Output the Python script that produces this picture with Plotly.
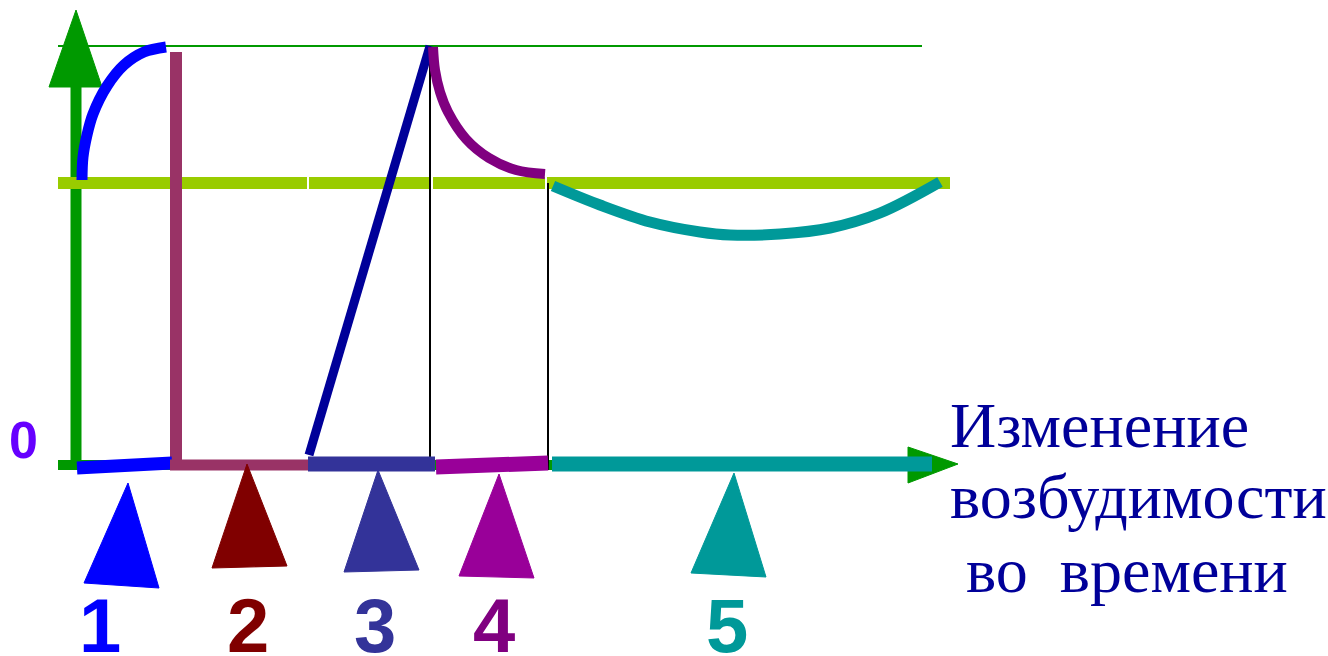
import plotly.graph_objects as go

# --- data (x = time, y = excitability above the resting level 0) ---
rest_level = 0
threshold_level = 282
peak_level = 419

# phase 1 - blue rise
phase1_x = [82, 83, 87, 93, 107, 124, 144, 166]
phase1_y = [285, 308, 330, 351, 379, 400, 413, 418]
# phase 2 - drop to zero
phase2_x = [176, 176]
phase2_y = [413, 0]
# phase 3 - linear recovery
phase3_x = [309, 430]
phase3_y = [10, 419]
# phase 4 - decay back to threshold
phase4_x = [433, 435, 440, 448, 466, 489, 516, 545]
phase4_y = [418, 395, 373, 353, 326, 307, 295, 291]
# phase 5 - sub-threshold dip
phase5_x = [553, 600, 650, 700, 730, 780, 830, 880, 940]
phase5_y = [279, 260, 243, 233, 230, 231, 237, 252, 283]

# phase intervals on the time axis
interval_x = [[77, 172], [170, 308], [308, 435], [436, 548], [552, 932]]
interval_y = [[-3, 2], [0, 0], [1, 1], [-2, 2], [1, 1]]
interval_colors = ["#0000FF", "#993366", "#333399", "#990099", "#009999"]
interval_widths = [13, 11, 15, 15, 15]

# pointer triangles under each interval
pointer_x = [[128, 84, 159], [247, 212, 287], [378, 344, 419], [499, 459, 534], [734, 691, 766]]
pointer_y = [[-18, -118, -123], [1, -103, -101], [-5, -107, -105], [-9, -111, -113], [-8, -108, -112]]
pointer_colors = ["#0000FF", "#800000", "#333399", "#990099", "#009999"]

phase_labels = ["1", "2", "3", "4", "5"]
label_x = [100, 248, 375, 494, 727]
label_colors = ["#0000FF", "#800000", "#333399", "#800080", "#009999"]

threshold_x = [58, 307, None, 309, 431, None, 433, 545, None, 547, 950]
title_lines = ["Изменение", "возбудимости", "\u00a0во\u00a0\u00a0времени"]

fig = go.Figure()


def line(x, y, color, width, shape="linear"):
    fig.add_trace(go.Scatter(x=x, y=y, mode="lines", line=dict(color=color, width=width, shape=shape)))


def tri(x, y, color):
    fig.add_trace(go.Scatter(x=x + [x[0]], y=y + [y[0]], mode="lines", fill="toself",
                             fillcolor=color, line=dict(color=color, width=1)))


# axes (green)
line([58, 930], [rest_level, rest_level], "#009900", 10)
tri([908, 908, 958], [18, -18, 1], "#009900")
line([76, 76], [-5, 380], "#009900", 11)
tri([49, 102, 76], [378, 378, 455], "#009900")

# levels
line([58, 922], [peak_level, peak_level], "#009900", 2)
line(threshold_x, [threshold_level if v is not None else None for v in threshold_x], "#99CC00", 12)

# thin guides
line([430, 430], [-5, peak_level], "black", 2)
line([548, 548], [-5, threshold_level], "black", 2)

# the excitability curve
line(phase1_x, phase1_y, "#0000FF", 11, "spline")
line(phase2_x, phase2_y, "#993366", 12)
line(phase3_x, phase3_y, "#000099", 9)
line(phase4_x, phase4_y, "#800080", 10, "spline")
line(phase5_x, phase5_y, "#009999", 11, "spline")

for xs, ys, c, w in zip(interval_x, interval_y, interval_colors, interval_widths):
    line(xs, ys, c, w)

for xs, ys, c in zip(pointer_x, pointer_y, pointer_colors):
    tri(xs, ys, c)

for t, x, c in zip(phase_labels, label_x, label_colors):
    fig.add_annotation(x=x, y=-160, text=t, showarrow=False, xanchor="center", yanchor="middle",
                       font=dict(family="Liberation Sans", size=76, color=c, weight="bold"))

fig.add_annotation(x=23, y=25, text="0", showarrow=False, xanchor="center", yanchor="middle",
                   font=dict(family="Liberation Sans", size=52, color="#6600FF", weight="bold"))

for t, y in zip(title_lines, [40, -31, -105]):
    fig.add_annotation(x=948, y=y, text=t, showarrow=False, xanchor="left", yanchor="middle",
                       font=dict(family="Liberation Serif", size=64, color="#000099"))

fig.update_layout(
    width=1328, height=656, margin=dict(l=0, r=0, t=0, b=0),
    paper_bgcolor="white", plot_bgcolor="white", showlegend=False, hovermode=False,
    xaxis=dict(range=[0, 1328], visible=False, fixedrange=True),
    yaxis=dict(range=[-191, 465], visible=False, fixedrange=True),
)
fig.write_html("out.html", config={"displayModeBar": False},
               post_script="document.body.style.margin='0';")
